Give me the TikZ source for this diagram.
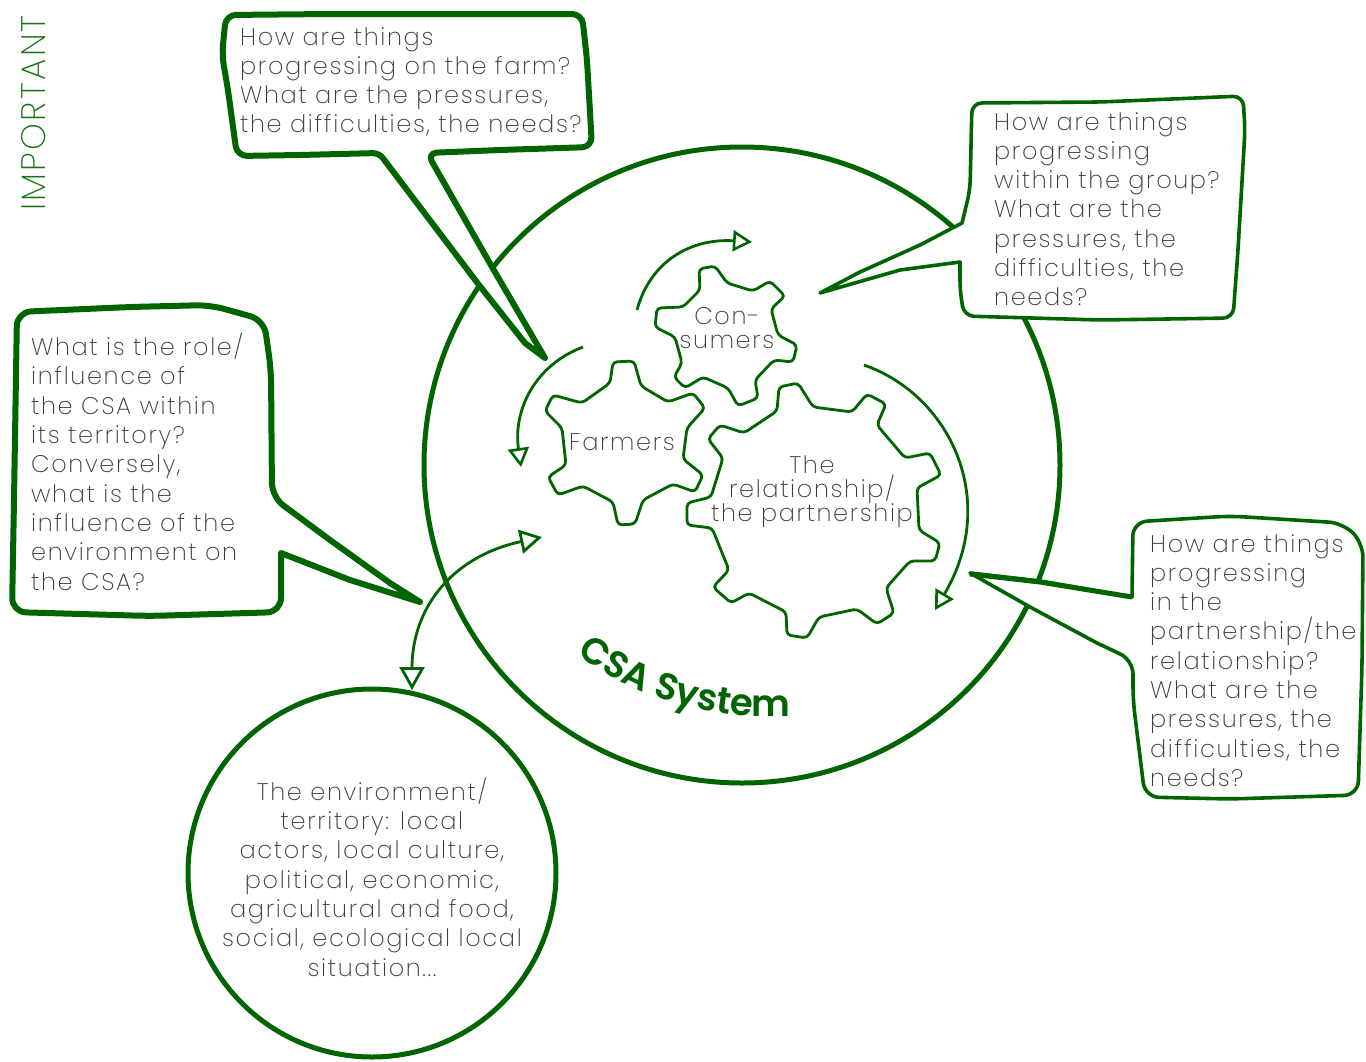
\documentclass[tikz,border=0pt]{standalone}
\usepackage{fontspec}
\setmainfont[LetterSpace=6.8]{Poppins ExtraLight}
\usetikzlibrary{arrows.meta,decorations.text}
\definecolor{csagreen}{RGB}{0,100,0}
\definecolor{asktext}{RGB}{60,60,60}
\tikzset{
	bigring/.style={draw=csagreen,circle,line width=5pt,fill=white,inner sep=0pt},
	gearline/.style={draw=csagreen,line width=2.8pt,rounded corners=4pt,fill=white},
	bubblethick/.style={draw=csagreen,line width=6pt,fill=white,line join=round},
	bubblethin/.style={draw=csagreen,line width=3.6pt,fill=white,line join=round},
	flowline/.style={draw=csagreen,line width=2.8pt,-{Triangle[open,length=19pt,width=21pt,line width=2.6pt,fill=white]}},
	bigflow/.style={draw=csagreen,line width=2.8pt,{Triangle[open,length=23pt,width=25pt,line width=2.8pt,fill=white]}-{Triangle[open,length=22pt,width=24pt,line width=2.8pt,fill=white]}},
	question/.style={text=asktext,inner sep=0pt,align=left,anchor=north west,font=\fontsize{24}{29.3}\selectfont},
	gearlabel/.style={text=asktext,inner sep=0pt,align=center,font=\fontsize{24}{24}\selectfont}
}
\begin{document}
\begin{tikzpicture}[x=1pt,y=-1pt]
		\useasboundingbox (0,0) rectangle (1366,1061);
		\node[bigring,minimum size=636pt] (csaring) at (742,465) {};
		\node[bigring,minimum size=368pt] (envring) at (372,873) {};

		% the three gears
		\draw[gearline] (699,269) -- (715,266) -- (727,283) -- (753,291) -- (770,281) -- (785,296) -- (771,309) -- (778,335) -- (797,345) -- (793,362) -- (774,360) -- (755,380) -- (758,398) -- (738,406) -- (728,388) -- (703,377) -- (685,388) -- (674,377) -- (682,363) -- (675,337) -- (655,327) -- (657,308) -- (683,307) -- (700,290) -- cycle;
		\draw[gearline] (613,362) -- (634,361) -- (641,386) -- (668,402) -- (693,393) -- (705,408) -- (687,428) -- (683,459) -- (703,475) -- (695,492) -- (673,484) -- (643,500) -- (635,524) -- (618,525) -- (613,502) -- (583,486) -- (558,495) -- (548,477) -- (566,465) -- (562,428) -- (545,411) -- (553,395) -- (582,403) -- (610,383) -- cycle;
		\draw[gearline] (779,387) -- (798,383) -- (813,407) -- (852,412) -- (867,394) -- (886,404) -- (877,425) -- (905,458) -- (930,453) -- (941,475) -- (917,488) -- (919,530) -- (940,543) -- (935,561) -- (910,561) -- (886,588) -- (894,613) -- (877,624) -- (857,609) -- (819,617) -- (807,638) -- (787,635) -- (786,612) -- (749,593) -- (731,603) -- (713,587) -- (729,570) -- (712,528) -- (687,525) -- (687,503) -- (711,497) -- (723,458) -- (708,439) -- (720,425) -- (744,433) -- (777,411) -- cycle;

		\node[gearlabel] (consumers) at (727,328) {Con-\\sumers};
		\node[gearlabel] (farmers) at (622,442) {Farmers};
		\node[gearlabel] (partnership) at (812,492) {The\\relationship/\\the partnership};

		% speech bubbles
		\draw[bubblethick,rounded corners=10pt] (226,15) -- (330,14) -- (450,14) -- (582,14) -- (587,60) -- (592,147) -- (500,150) -- (427,153) [rounded corners=3pt] -- (492,267) [sharp corners] -- (545,358) -- (525,343) -- (479,285) [rounded corners=6pt] -- (379,153) [rounded corners=10pt] -- (300,155) -- (237,156) -- (228,90) -- (222,55) -- cycle;
		\draw[bubblethin,rounded corners=10pt] (972,103) -- (1100,102) -- (1243,96) -- (1245,130) -- (1238,250) -- (1233,318) -- (1100,320) -- (964,316) -- (960,290) [sharp corners] -- (960,262) -- (900,270) -- (820,293) -- (860,272) -- (920,245) -- (962,223) [rounded corners=10pt] -- (970,190) -- cycle;
		\draw[bubblethick,rounded corners=14pt] (17,312) -- (130,307) -- (210,305) -- (264,320) -- (271,370) -- (272,497) [sharp corners] -- (330,540) -- (390,583) -- (420,602) -- (350,580) -- (281,553) [rounded corners=14pt] -- (281,612) -- (150,616) -- (12,612) -- (14,500) -- cycle;
		\draw[bubblethin,rounded corners=14pt] (1133,522) -- (1230,516) -- (1343,523) -- (1363,543) -- (1362,667) -- (1358,795) -- (1230,799) -- (1145,797) -- (1133,700) -- (1133,660) [sharp corners] -- (1097,643) -- (1030,607) -- (970,573) -- (1040,581) -- (1132,597) [rounded corners=14pt] -- cycle;
		\coordinate (partnertip) at (970,574);
		\coordinate (partnerjoin) at (1132,597);
		\draw[csagreen,line width=5pt] (partnertip) -- (1040,582) -- (partnerjoin);

		\node[question] (farmask) at (240,27) {How are things\\progressing on the farm?\\What are the pressures,\\the difficulties, the needs?};
		\node[question] (groupask) at (994,112) {How are things\\progressing\\within the group?\\What are the\\pressures, the\\difficulties, the\\needs?};
		\node[question] (territoryask) at (31,333) {What is the role/\\influence of\\the CSA within\\its territory?\\Conversely,\\what is the\\influence of the\\environment on\\the CSA?};
		\node[question] (partnerask) at (1150,534) {How are things\\progressing\\in the\\partnership/the\\relationship?\\What are the\\pressures, the\\difficulties, the\\needs?};
		\node[question,align=center,anchor=center] (envtext) at (372,877) {The environment/\\territory: local\\actors, local culture,\\political, economic,\\agricultural and food,\\social, ecological local\\situation...};

		% rotation arrows
		\coordinate (consumerfrom) at (637,310);
		\coordinate (consumerto) at (752,242);
		\coordinate (farmerfrom) at (583,347);
		\coordinate (farmerto) at (521,467);
		\coordinate (partnerfrom) at (864,365);
		\coordinate (partnerto) at (935,610);
		\coordinate (envfrom) at (412,690);
		\coordinate (envto) at (542,537);
		\draw[flowline] (consumerfrom) .. controls (650,262) and (690,238) .. (consumerto);
		\draw[flowline] (farmerfrom) .. controls (535,365) and (513,410) .. (farmerto);
		\draw[flowline] (partnerfrom) .. controls (950,395) and (1000,500) .. (partnerto);
		\draw[bigflow] (envfrom) .. controls (412,610) and (450,557) .. (envto);

		\path[decorate,decoration={text along path,text color=csagreen,text align=center,text={|\fontsize{37}{37}\fontspec{Poppins SemiBold}|CSA System}}] (572,650) .. controls (625,692) and (700,722) .. (797,716);
		\node[rotate=90,text=csagreen!90!white,inner sep=0pt,font=\fontsize{34}{34}\selectfont] (important) at (34,113) {IMPORTANT};
		\end{tikzpicture}
\end{document}
